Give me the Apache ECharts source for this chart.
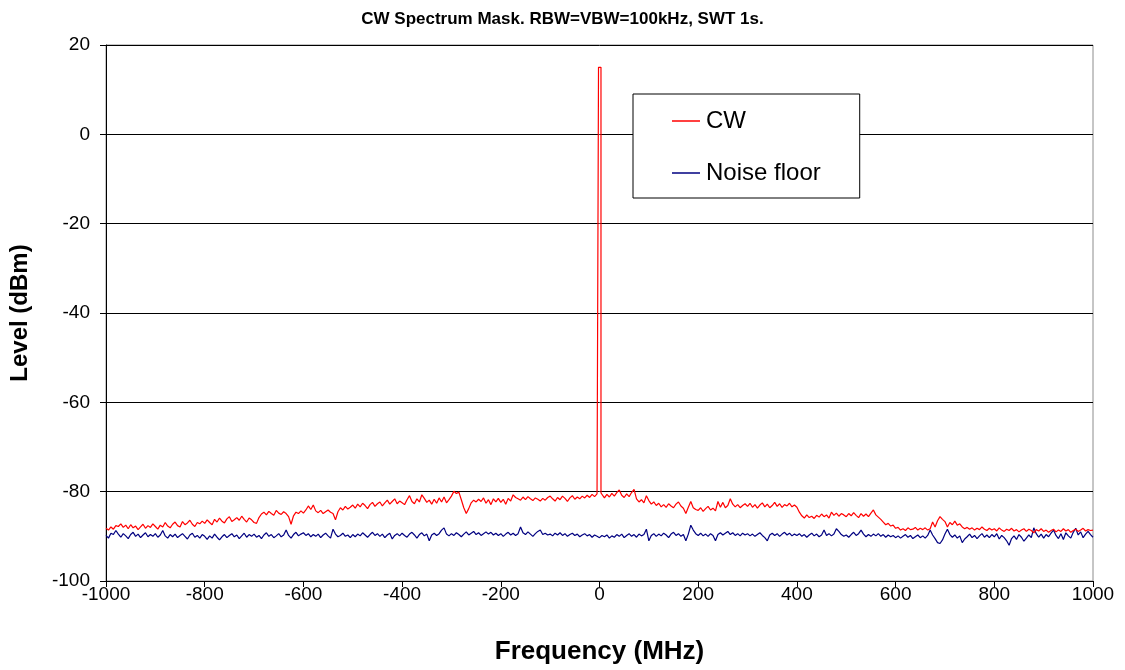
<!DOCTYPE html>
<html>
<head>
<meta charset="utf-8">
<script src="https://cdn.jsdelivr.net/npm/echarts@6/dist/echarts.min.js"></script>
<style>
html,body{margin:0;padding:0;background:#fff;}
#chart{width:1125px;height:670px;}
</style>
</head>
<body>
<div id="chart"></div>
<script>
// Frequency grid (MHz) and step of the sweep points
const freqStart = -1000;
const freqStep = 5;
const xTicks = [-1000, -800, -600, -400, -200, 0, 200, 400, 600, 800, 1000];
const yTicks = [-100, -80, -60, -40, -20, 0, 20];

// CW trace (dBm), one value per 5 MHz from -1000 to 1000; the value at 0 MHz is the carrier peak
const cwLevels = [
-88.2,-88.6,-87.9,-88.4,-87.6,-87.8,-87.2,-88.0,-87.5,-88.3,-87.4,-88.1,-87.7,-88.5,-87.9,-87.3,-88.2,-87.6,-88.0,-87.2,
-87.8,-88.4,-87.5,-87.9,-86.9,-87.7,-88.1,-87.3,-86.8,-87.6,-87.9,-86.7,-87.4,-87.0,-86.4,-87.3,-87.8,-86.9,-87.2,-86.6,
-87.1,-86.3,-86.9,-87.4,-86.2,-86.8,-85.9,-86.6,-87.0,-86.1,-85.6,-86.7,-86.3,-85.8,-86.4,-85.5,-86.2,-86.8,-85.9,-86.3,
-86.9,-87.1,-85.8,-85.0,-84.6,-85.2,-84.4,-84.9,-85.3,-84.2,-84.8,-85.1,-84.5,-84.9,-85.6,-87.3,-85.4,-84.6,-84.9,-84.3,
-84.8,-84.1,-83.2,-84.0,-83.0,-84.3,-84.7,-84.2,-84.9,-84.5,-84.1,-84.6,-84.9,-86.3,-84.5,-83.6,-84.1,-83.3,-83.9,-83.5,
-83.0,-83.7,-82.8,-83.4,-82.6,-83.1,-83.8,-82.9,-82.4,-83.3,-82.7,-82.3,-83.2,-82.5,-81.9,-82.8,-82.2,-81.6,-82.7,-82.1,
-82.5,-82.9,-81.8,-80.9,-82.2,-82.7,-81.6,-82.3,-80.7,-81.5,-82.4,-81.9,-82.8,-81.7,-82.6,-81.4,-82.3,-81.2,-82.5,-81.8,
-81.0,-79.9,-80.4,-80.1,-81.8,-83.6,-84.9,-83.8,-82.5,-81.9,-82.3,-81.7,-82.2,-81.4,-82.6,-81.8,-82.9,-81.6,-82.3,-81.5,
-82.4,-81.7,-82.8,-81.5,-82.1,-80.7,-81.3,-81.6,-81.9,-81.2,-81.8,-81.1,-81.6,-82.0,-81.4,-81.7,-82.1,-81.5,-81.9,-81.3,
-81.0,-81.6,-82.1,-81.3,-81.8,-81.0,-81.5,-82.2,-81.4,-80.9,-81.7,-81.2,-81.6,-81.0,-81.4,-80.8,-81.3,-80.6,-81.1,-80.5,
15.0,-80.3,-81.4,-80.6,-81.2,-80.4,-81.0,-80.2,-79.6,-80.8,-81.3,-80.5,-81.1,-80.2,-79.5,-81.6,-82.3,-81.8,-82.5,-80.9,
-82.0,-82.8,-82.3,-83.1,-82.6,-83.4,-82.9,-83.5,-82.7,-83.2,-83.6,-82.8,-82.3,-83.2,-83.7,-84.9,-83.5,-82.2,-83.6,-84.0,
-84.2,-83.6,-84.4,-83.8,-83.3,-84.1,-83.7,-84.3,-82.2,-83.5,-82.4,-83.6,-83.1,-81.6,-82.8,-83.4,-82.9,-83.6,-83.1,-82.7,
-83.3,-82.6,-83.5,-82.9,-83.7,-83.0,-82.5,-83.4,-82.8,-83.6,-83.1,-82.4,-83.3,-82.7,-83.5,-82.9,-83.2,-82.6,-83.4,-83.0,
-83.5,-84.6,-85.4,-85.9,-85.2,-85.8,-85.5,-86.0,-85.3,-85.7,-85.0,-85.6,-85.2,-85.9,-84.6,-85.3,-84.8,-85.5,-84.9,-85.2,
-85.6,-84.9,-85.4,-84.7,-85.3,-85.8,-84.9,-85.5,-85.0,-85.6,-84.8,-84.1,-85.2,-85.7,-86.2,-86.8,-87.4,-87.1,-87.7,-87.5,
-88.2,-88.0,-88.6,-88.3,-88.7,-88.1,-88.5,-88.4,-88.0,-88.6,-88.2,-88.5,-88.1,-88.6,-88.3,-86.8,-87.9,-86.5,-85.6,-86.2,
-86.7,-87.9,-86.9,-87.4,-86.6,-87.5,-87.2,-87.9,-88.3,-88.0,-88.4,-88.1,-88.6,-88.2,-88.5,-87.9,-88.4,-88.7,-88.2,-88.6,
-88.3,-88.8,-88.1,-88.6,-88.9,-88.4,-88.7,-88.2,-88.8,-88.5,-89.0,-88.6,-88.3,-88.9,-88.4,-88.7,-89.2,-88.5,-88.8,-88.3,
-88.9,-88.6,-89.1,-88.7,-88.4,-89.0,-88.6,-88.9,-88.3,-88.8,-88.5,-89.1,-88.7,-88.4,-88.9,-88.6,-88.2,-88.8,-88.5,-88.7,
-88.6
];
// Edges of the carrier peak (MHz) where the CW trace jumps up and back down
const cwPeakEdges = [-2, 3];

// Noise floor trace (dBm), one value per 5 MHz from -1000 to 1000
const noiseLevels = [
-89.8,-90.4,-89.3,-89.6,-88.7,-89.5,-90.2,-89.4,-89.9,-90.5,-89.6,-89.1,-90.0,-89.5,-90.3,-89.7,-89.2,-90.1,-89.6,-90.0,
-89.4,-90.2,-89.7,-88.7,-89.9,-90.4,-89.6,-90.1,-89.5,-90.3,-89.8,-89.4,-90.0,-90.6,-89.7,-89.3,-90.2,-89.8,-90.4,-89.6,
-90.0,-90.7,-89.9,-90.4,-89.5,-90.2,-90.8,-90.1,-89.6,-90.3,-89.8,-89.4,-90.1,-89.7,-90.5,-89.9,-89.3,-90.2,-89.6,-90.0,
-89.5,-90.2,-89.8,-90.5,-89.7,-89.2,-90.0,-89.6,-90.3,-89.9,-89.4,-90.1,-89.7,-88.6,-89.8,-90.4,-89.6,-89.1,-89.9,-89.5,
-89.2,-89.8,-89.4,-90.1,-89.6,-90.0,-89.5,-90.3,-89.7,-89.3,-89.9,-90.4,-88.4,-89.5,-90.1,-89.8,-89.3,-90.0,-89.7,-90.3,
-89.6,-90.1,-89.5,-89.9,-89.2,-89.7,-90.2,-89.6,-89.1,-89.8,-89.4,-90.0,-89.5,-90.3,-89.7,-89.3,-90.6,-89.8,-89.4,-89.9,
-89.3,-89.8,-90.2,-89.5,-89.1,-89.7,-90.4,-89.6,-89.2,-89.9,-89.5,-91.0,-89.7,-89.3,-89.8,-89.4,-88.6,-88.1,-89.5,-89.9,
-89.4,-89.8,-89.2,-89.6,-90.1,-89.5,-89.0,-89.7,-89.3,-88.9,-89.6,-89.2,-89.8,-89.4,-89.0,-89.5,-89.1,-89.7,-89.3,-89.8,
-89.4,-90.0,-89.5,-89.1,-89.7,-89.3,-89.8,-89.4,-87.9,-89.2,-89.6,-89.0,-89.5,-90.0,-89.4,-88.9,-88.6,-89.6,-89.3,-89.7,
-89.5,-89.9,-89.3,-89.7,-89.2,-89.8,-89.4,-90.0,-89.6,-89.3,-89.8,-89.5,-90.1,-89.7,-89.4,-89.9,-89.6,-90.2,-89.7,-90.0,
-90.3,-89.8,-90.1,-89.7,-90.4,-89.9,-90.2,-89.6,-90.0,-89.5,-90.3,-89.8,-89.4,-90.0,-89.6,-90.2,-89.5,-89.9,-89.6,-88.4,
-91.0,-89.8,-89.4,-90.0,-89.5,-89.9,-89.3,-89.7,-90.3,-89.5,-89.1,-89.8,-89.4,-90.0,-89.6,-91.0,-89.5,-87.5,-88.6,-89.4,
-89.8,-89.3,-89.9,-89.5,-90.0,-89.4,-89.8,-91.0,-89.6,-89.2,-89.7,-89.3,-88.9,-89.6,-89.2,-89.8,-89.4,-89.9,-89.3,-89.7,
-89.4,-89.9,-89.5,-90.0,-89.6,-89.2,-89.8,-90.3,-91.0,-89.7,-89.3,-89.8,-89.4,-90.0,-89.5,-89.1,-89.7,-89.3,-89.9,-89.5,
-89.8,-89.4,-90.0,-89.6,-90.2,-89.7,-89.3,-89.9,-89.5,-90.1,-89.7,-88.6,-89.8,-89.4,-89.9,-89.5,-88.3,-88.9,-89.6,-90.0,
-89.7,-90.2,-89.6,-89.1,-89.8,-89.4,-88.6,-89.5,-90.1,-89.6,-90.0,-89.5,-89.9,-89.4,-90.0,-89.6,-90.2,-89.7,-90.1,-89.8,
-90.3,-89.9,-90.4,-90.0,-89.6,-90.2,-89.8,-90.5,-90.1,-89.7,-90.3,-89.9,-90.4,-89.8,-88.6,-89.7,-90.5,-91.4,-91.6,-90.8,
-89.5,-88.4,-89.6,-90.2,-89.7,-90.4,-89.9,-91.4,-90.6,-90.1,-89.5,-90.3,-89.8,-90.5,-89.9,-89.4,-90.2,-89.7,-90.3,-89.6,
-90.1,-89.4,-90.6,-89.8,-90.3,-91.0,-92.0,-90.5,-89.9,-90.7,-89.6,-90.2,-91.1,-90.4,-89.7,-90.3,-88.1,-89.4,-90.2,-89.5,
-90.4,-89.6,-90.1,-89.3,-88.6,-89.8,-90.5,-89.4,-90.7,-89.2,-89.9,-90.4,-89.1,-88.2,-89.7,-89.0,-90.3,-89.5,-88.9,-89.6,
-90.2
];

const FONT = '"Liberation Sans", Arial, sans-serif';

// build [freq, level] pairs
const cwData = [];
cwLevels.forEach((v, i) => {
  const f = freqStart + i * freqStep;
  if (f === 0) {
    const lo = cwLevels[i - 1], hi = cwLevels[i + 1];
    cwData.push([cwPeakEdges[0], lo]);
    cwData.push([cwPeakEdges[0], v]);
    cwData.push([cwPeakEdges[1], v]);
    cwData.push([cwPeakEdges[1], hi]);
  } else {
    cwData.push([f, v]);
  }
});
const noiseData = noiseLevels.map((v, i) => [freqStart + i * freqStep, v]);

const chart = echarts.init(document.getElementById('chart'), null, {renderer: 'canvas'});
chart.setOption({
  animation: false,
  backgroundColor: '#ffffff',
  title: {
    text: 'CW Spectrum Mask. RBW=VBW=100kHz, SWT 1s.',
    left: 'center',
    top: 6,
    textStyle: {fontFamily: FONT, fontSize: 17, fontWeight: 'bold', color: '#000'}
  },
  grid: {
    left: 106, right: 32, top: 45, bottom: 87,
    show: true, borderColor: '#8c8c8c', borderWidth: 1, backgroundColor: '#fff'
  },
  legend: {
    left: 633, top: 94,
    orient: 'vertical',
    padding: [15, 39, 13, 39],
    itemGap: 28,
    itemWidth: 28, itemHeight: 1.5,
    icon: 'rect',
    borderColor: '#000', borderWidth: 1,
    backgroundColor: '#fff',
    textStyle: {fontFamily: FONT, fontSize: 24, color: '#000', padding: [0, 0, 0, 1]},
    data: ['CW', 'Noise floor']
  },
  xAxis: {
    type: 'value',
    min: xTicks[0], max: xTicks[xTicks.length - 1], interval: 200,
    name: 'Frequency (MHz)',
    nameLocation: 'middle',
    nameGap: 58,
    nameTextStyle: {fontFamily: FONT, fontSize: 26, fontWeight: 'bold', color: '#000'},
    axisLine: {show: true, onZero: false, lineStyle: {color: '#000', width: 1}},
    axisTick: {show: true, length: 6, inside: false, lineStyle: {color: '#000'}},
    axisLabel: {fontFamily: FONT, fontSize: 19, color: '#000', margin: 4,
      formatter: v => String(v)},
    splitLine: {show: false}
  },
  yAxis: {
    type: 'value',
    min: yTicks[0], max: yTicks[yTicks.length - 1], interval: 20,
    name: 'Level (dBm)',
    nameLocation: 'middle',
    nameGap: 74,
    nameTextStyle: {fontFamily: FONT, fontSize: 24, fontWeight: 'bold', color: '#000'},
    axisLine: {show: true, onZero: false, lineStyle: {color: '#000', width: 1}},
    axisTick: {show: true, length: 6, inside: false, lineStyle: {color: '#000'}},
    axisLabel: {fontFamily: FONT, fontSize: 19, color: '#000', margin: 16,
      formatter: v => String(v)},
    splitLine: {show: true, lineStyle: {color: '#000', width: 1}}
  },
  series: [
    {
      name: 'CW', type: 'line', data: cwData,
      symbol: 'none', showSymbol: false,
      lineStyle: {color: '#ff0000', width: 1.2},
      itemStyle: {color: '#ff0000'},
      z: 3
    },
    {
      name: 'Noise floor', type: 'line', data: noiseData,
      symbol: 'none', showSymbol: false,
      lineStyle: {color: '#000080', width: 1.2},
      itemStyle: {color: '#000080'},
      z: 2
    }
  ]
});
</script>
</body>
</html>
